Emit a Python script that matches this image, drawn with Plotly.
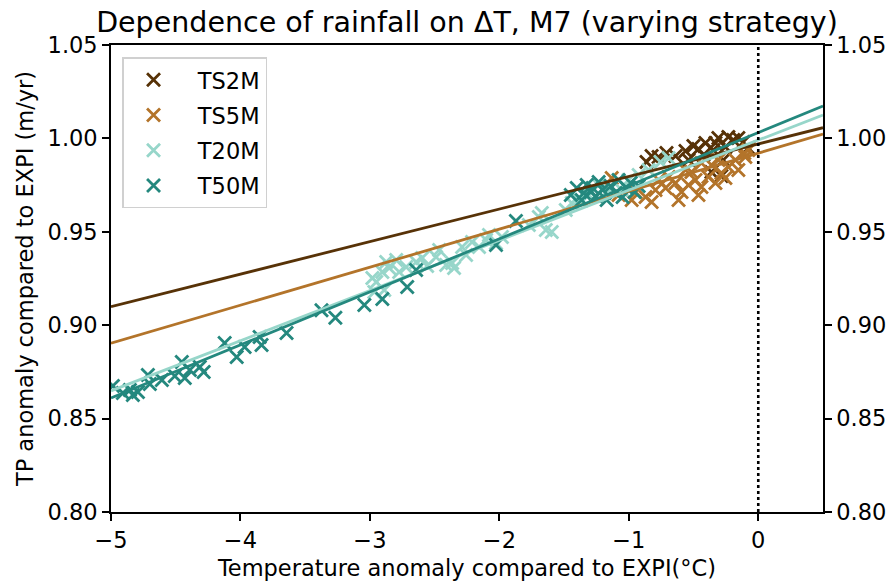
import plotly.graph_objects as go

# ---------------- data ----------------
series_names = ["TS2M", "TS5M", "T20M", "T50M"]
colors = ["#573207", "#b3742a", "#97d6ca", "#24887e"]

ts2m_x = [-0.863, -0.824, -0.770, -0.709, -0.639, -0.562, -0.501, -0.462, -0.408, -0.362,
          -0.331, -0.308, -0.285, -0.254, -0.231, -0.193, -0.154, -0.116, -0.077, -0.424,
          -0.539, -0.347, -0.270]
ts2m_y = [0.9874, 0.9906, 0.9900, 0.9922, 0.9906, 0.9933, 0.9959, 0.9943, 0.9975, 0.9820,
          0.9975, 1.0002, 0.9799, 0.9954, 1.0008, 0.9991, 1.0002, 0.9981, 0.9949, 0.9911,
          0.9884, 0.9938, 0.9884]

ts5m_x = [-1.132, -1.079, -0.978, -0.948, -0.871, -0.824, -0.794, -0.770, -0.716, -0.693,
          -0.639, -0.593, -0.562, -0.539, -0.485, -0.462, -0.439, -0.439, -0.385, -0.362,
          -0.331, -0.308, -0.285, -0.231, -0.177, -0.154, -0.100, -0.077, -0.108, -0.616,
          -0.516, -0.254]
ts5m_y = [0.9788, 0.9697, 0.9670, 0.9713, 0.9686, 0.9660, 0.9724, 0.9777, 0.9735, 0.9793,
          0.9761, 0.9713, 0.9831, 0.9751, 0.9777, 0.9697, 0.9740, 0.9868, 0.9793, 0.9858,
          0.9761, 0.9884, 0.9815, 0.9847, 0.9884, 0.9831, 0.9900, 0.9938, 0.9922, 0.9670,
          0.9820, 0.9788]

t20m_x = [-2.981, -2.951, -2.904, -2.874, -2.851, -2.797, -2.774, -2.720, -2.643, -2.596,
          -2.558, -2.489, -2.465, -2.411, -2.365, -2.350, -2.288, -2.257, -2.211, -2.157,
          -2.103, -2.080, -2.026, -1.980, -1.772, -1.695, -1.672, -1.641, -1.595, -1.487,
          -1.441, -1.387, -1.310, -1.233, -1.156, -1.055, -1.002, -0.924, -0.847, -0.755,
          -0.693, -2.966, -2.889]
t20m_y = [0.9253, 0.9231, 0.9285, 0.9338, 0.9306, 0.9349, 0.9285, 0.9312, 0.9338, 0.9360,
          0.9317, 0.9365, 0.9403, 0.9322, 0.9333, 0.9306, 0.9419, 0.9376, 0.9445, 0.9419,
          0.9456, 0.9483, 0.9440, 0.9472, 0.9536, 0.9579, 0.9601, 0.9510, 0.9499, 0.9617,
          0.9654, 0.9670, 0.9697, 0.9751, 0.9724, 0.9724, 0.9777, 0.9804, 0.9831, 0.9874,
          0.9895, 0.9178, 0.9188]

t50m_x = [-4.985, -4.908, -4.854, -4.831, -4.792, -4.715, -4.700, -4.607, -4.507, -4.453,
          -4.430, -4.391, -4.314, -4.284, -4.122, -4.029, -3.968, -3.837, -3.852, -3.644,
          -3.374, -3.267, -3.043, -2.904, -2.712, -2.643, -2.026, -1.872, -1.448, -1.402,
          -1.364, -1.325, -1.294, -1.256, -1.233, -1.202, -1.171, -1.140, -1.102, -1.079,
          -1.048, -1.017, -0.986, -0.955, -0.924, -1.348, -1.279]
t50m_y = [0.8675, 0.8637, 0.8653, 0.8626, 0.8643, 0.8734, 0.8685, 0.8707, 0.8728, 0.8803,
          0.8717, 0.8760, 0.8776, 0.8750, 0.8905, 0.8830, 0.8883, 0.8894, 0.8937, 0.8958,
          0.9080, 0.9040, 0.9108, 0.9140, 0.9205, 0.9296, 0.9429, 0.9558, 0.9697, 0.9735,
          0.9670, 0.9751, 0.9713, 0.9692, 0.9767, 0.9724, 0.9670, 0.9745, 0.9708, 0.9777,
          0.9686, 0.9735, 0.9761, 0.9713, 0.9745, 0.9708, 0.9735]

# linear fit coefficients (slope, intercept)
fit_slopes = [0.01742, 0.02035, 0.02685, 0.02842]
fit_intercepts = [0.9970, 0.9921, 0.9991, 1.0031]

x_limits = [-5, 0.5]
y_limits = [0.80, 1.05]
x_ticks = [-5, -4, -3, -2, -1, 0]
x_ticklabels = ["\u22125", "\u22124", "\u22123", "\u22122", "\u22121", "0"]
y_ticks = [0.80, 0.85, 0.90, 0.95, 1.00, 1.05]

xs = [ts2m_x, ts5m_x, t20m_x, t50m_x]
ys = [ts2m_y, ts5m_y, t20m_y, t50m_y]

FONT = "DejaVu Sans"
FS = 22.5

fig = go.Figure()

for i, name in enumerate(series_names):
    fig.add_trace(go.Scatter(
        x=xs[i], y=ys[i], mode="markers", name="  " + name,
        legendgroup=name,
        marker=dict(symbol="x-thin", size=13, color=colors[i],
                    line=dict(color=colors[i], width=2.8)),
        hoverinfo="skip",
    ))

for i, name in enumerate(series_names):
    lx = x_limits
    ly = [fit_slopes[i] * v + fit_intercepts[i] for v in lx]
    fig.add_trace(go.Scatter(
        x=lx, y=ly, mode="lines", showlegend=False, legendgroup=name,
        line=dict(color=colors[i], width=2.8), hoverinfo="skip",
    ))

# invisible trace on right axis to make it render
fig.add_trace(go.Scatter(x=x_limits, y=y_limits, yaxis="y2", mode="lines",
                         line=dict(width=0), opacity=0, showlegend=False,
                         hoverinfo="skip"))

fig.add_shape(type="line", x0=0, x1=0, xref="x", y0=0, y1=1, yref="paper",
              line=dict(color="black", width=2.6, dash="dot"))

axis_common = dict(showgrid=False, zeroline=False, ticks="outside", ticklen=7,
                   tickwidth=1.6, tickcolor="black", showline=True,
                   linecolor="black", linewidth=1.6, automargin=False,
                   tickfont=dict(family=FONT, size=FS, color="black"))

fig.update_layout(
    template="none",
    width=893, height=581,
    margin=dict(l=111, r=70, t=45, b=69),
    paper_bgcolor="white", plot_bgcolor="white",
    font=dict(family=FONT, size=FS, color="black"),
    title=dict(text="Dependence of rainfall on \u0394T, M7 (varying strategy)",
               x=0.5, xref="paper", xanchor="center",
               y=1 - 22 / 581, yref="container", yanchor="middle",
               font=dict(family=FONT, size=28.5, color="black")),
    xaxis=dict(range=x_limits, tickvals=x_ticks, ticktext=x_ticklabels,
               mirror=True,
               title=dict(text="Temperature anomaly compared to EXPI(\u00b0C)",
                          font=dict(family=FONT, size=FS), standoff=10),
               **axis_common),
    yaxis=dict(range=y_limits, tickvals=y_ticks, tickformat=".2f", mirror=True,
               title=dict(text="TP anomaly compared to EXPI (m/yr)",
                          font=dict(family=FONT, size=FS), standoff=8),
               **axis_common),
    yaxis2=dict(range=y_limits, tickvals=y_ticks, tickformat=".2f",
                overlaying="y", side="right", **axis_common),
    legend=dict(x=0.0155, y=0.974, xanchor="left", yanchor="top",
                bgcolor="white", bordercolor="#d0d0d0", borderwidth=1.5,
                font=dict(family=FONT, size=FS, color="black"),
                tracegroupgap=3, traceorder="grouped",
                itemwidth=50),
    showlegend=True,
)

fig.write_html("out.html")
